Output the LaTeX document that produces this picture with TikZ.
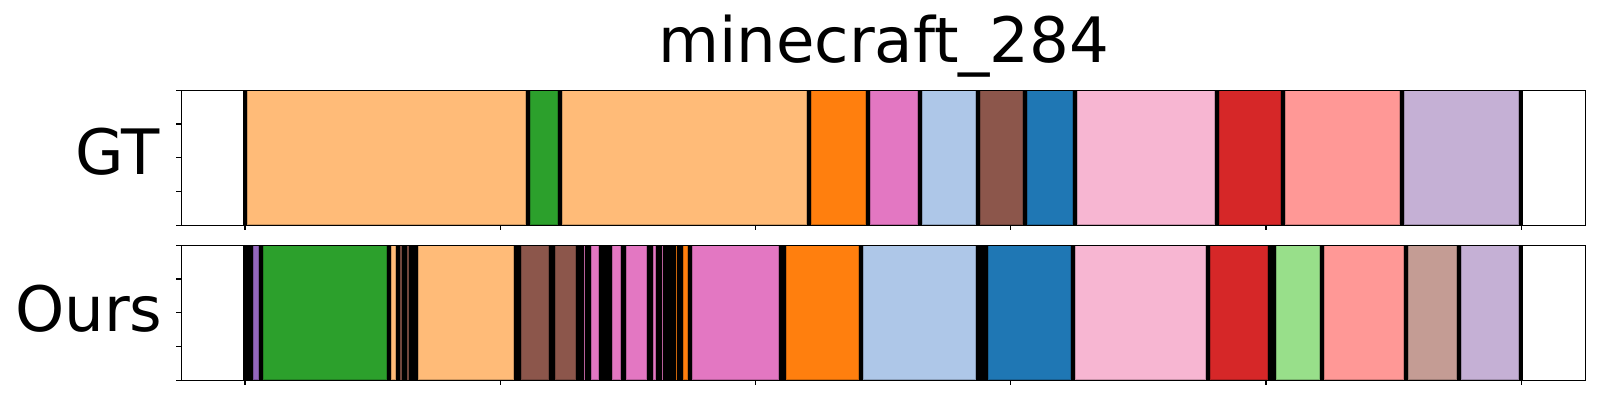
\documentclass[tikz,border=0pt]{standalone}
\usepackage{fontspec}
\setmainfont{DejaVu Sans}
\definecolor{cLOr}{HTML}{FFBB78}
\definecolor{cGr}{HTML}{2CA02C}
\definecolor{cOr}{HTML}{FF7F0E}
\definecolor{cPk}{HTML}{E377C2}
\definecolor{cLBl}{HTML}{AEC7E8}
\definecolor{cBr}{HTML}{8C564B}
\definecolor{cBl}{HTML}{1F77B4}
\definecolor{cLPk}{HTML}{F7B6D2}
\definecolor{cRd}{HTML}{D62728}
\definecolor{cLRd}{HTML}{FF9896}
\definecolor{cLav}{HTML}{C5B0D5}
\definecolor{cPu}{HTML}{9467BD}
\definecolor{cLGr}{HTML}{98DF8A}
\definecolor{cLBr}{HTML}{C49C94}
\tikzset{
  seg/.style={fill=#1, draw=#1!80!black, line width=0.5pt},
  spine/.style={draw=black, line width=0.6pt},
  tickmark/.style={draw=black, line width=0.6pt},
  lbl/.style={font=\fontsize{31.3pt}{36pt}\selectfont, inner sep=0pt},
}
\begin{document}
\begin{tikzpicture}[x=0.5pt, y=-0.5pt]
\useasboundingbox (0,0) rectangle (1600,400);
\fill[white] (0,0) rectangle (1600,400);
% panels: top 90.3-225.3, bottom 245.3-380.3
% black background of segments
\fill[black] (242.7,90.3) rectangle (1522.7,225.3);
\fill[black] (242.7,245.3) rectangle (1522.7,380.3);
% GT segments
\foreach \a/\b/\c in {246.7/526/cLOr, 530/557.7/cGr, 562/807.3/cLOr, 811/866/cOr,
  870/918/cPk, 921.7/976/cLBl, 980/1023/cBr, 1027/1073/cBl, 1077.3/1215/cLPk,
  1219/1281/cRd, 1285.3/1400/cLRd, 1404/1519/cLav}
  \path[seg=\c] (\a+0.5,91) rectangle (\b-0.5,224.6);
% Ours segments
\foreach \a/\b/\c in {252.7/259/cPu, 263/387.3/cGr, 390.7/396/cLOr, 399.7/402/cBr,
  407/409/cBr, 418/513.7/cLOr, 521/549/cBr, 555.3/575.7/cBr, 584/585/cPk,
  591/599/cPk, 612/620.7/cPk, 626/646.7/cPk, 653/655.7/cPk, 662/662.7/cPk,
  676/676.7/cOr, 683/688/cOr, 692/778.7/cPk, 786/859/cOr, 862.7/976/cLBl,
  988/1071/cBl, 1075/1205.7/cLPk, 1209.7/1268/cRd, 1276/1320/cLGr,
  1324/1404/cLRd, 1408/1457/cLBr, 1461/1519/cLav}
  \path[seg=\c] (\a+0.4,246) rectangle (\b-0.4,379.6);
% spines
\draw[spine] (181.7,90.3) rectangle (1585.7,225.3);
\draw[spine] (181.7,245.3) rectangle (1585.7,380.3);
% y ticks
\foreach \y in {0,1,2,3,4} {
  \draw[tickmark] (176,90.3+33.75*\y) -- (181.7,90.3+33.75*\y);
  \draw[tickmark] (176,245.3+33.75*\y) -- (181.7,245.3+33.75*\y);
}
% x ticks
\foreach \i in {0,...,5} {
  \draw[tickmark] (245+255.26*\i,225.3) -- (245+255.26*\i,230.5);
  \draw[tickmark] (245+255.26*\i,380.3) -- (245+255.26*\i,385.5);
}
% labels
\node[lbl, anchor=base] (title) at (883.7,62.7) {minecraft\_284};
\node[lbl, anchor=base east] (gt) at (160,175) {GT};
\node[lbl, anchor=base east] (ours) at (163,331.7) {Ours};
\end{tikzpicture}
\end{document}
